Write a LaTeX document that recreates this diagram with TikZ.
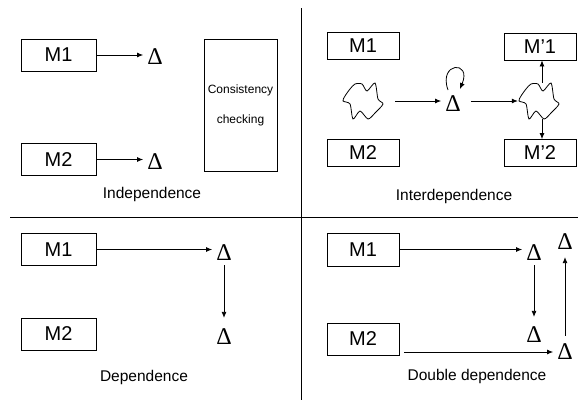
\documentclass[tikz,border=0pt]{standalone}
\usepackage{fontspec}
\setmainfont{Liberation Sans}
\newfontfamily\grk{Liberation Serif}
\usetikzlibrary{arrows.meta}
\tikzset{
  model/.style={draw, line width=0.8pt, minimum width=75pt, minimum height=32pt, font=\fontsize{20}{24}\selectfont},
  smallmodel/.style={model, minimum width=72pt, minimum height=27pt},
  delta/.style={font=\grk\fontsize{24}{28}\selectfont, inner sep=4pt},
  caption/.style={font=\fontsize{15.5}{18}\selectfont},
  arr/.style={-{Latex[length=6pt,width=5pt]}, line width=0.8pt},
  blobarea/.style={minimum width=40pt, minimum height=36pt, inner sep=0pt},
  blob/.pic={\draw[line width=0.8pt] plot [smooth cycle, tension=.45] coordinates {(-17,-5) (-12,-12) (-7,-17) (0,-17) (5,-10) (13,-18) (16,-2) (21,3) (13,12) (6,18) (-2,10) (-9,18) (-12,3) (-19,0)};}
}
\begin{document}
\begin{tikzpicture}[x=1pt, y=-1pt]
    \useasboundingbox (0,0) rectangle (578,400);
    \draw[line width=0.8pt] (301,8) -- (301,400);
    \draw[line width=0.8pt] (10,217) -- (578,217);
    % Independence
    \node[model] (m1A) at (58.5,55) {M1};
    \node[model] (m2A) at (58.5,159.5) {M2};
    \node[delta] (dA1) at (155,57) {Δ};
    \node[delta] (dA2) at (155,162) {Δ};
    \node[draw, line width=0.8pt, minimum width=73pt, minimum height=132pt, align=center, font=\fontsize{12}{30}\selectfont] (check) at (240.5,105) {Consistency\\checking};
    \draw[arr] (m1A.east) -- (m1A.east -| dA1.west);
    \draw[arr] (m2A.east) -- (m2A.east -| dA2.west);
    \node[caption] (capA) at (152,194) {Independence};
    % Interdependence
    \node[smallmodel] (m1B) at (363,46) {M1};
    \node[smallmodel] (m2B) at (363,152.5) {M2};
    \node[smallmodel] (m1pB) at (540,46.5) {M’1};
    \node[smallmodel] (m2pB) at (540,153) {M’2};
    \node[blobarea] (cl1) at (362,101) {};
    \node[blobarea] (cl2) at (538,101) {};
    \pic at (cl1) {blob};
    \pic at (cl2) {blob};
    \node[delta] (dB) at (453,104) {Δ};
    \coordinate (loopS) at (448,90);
    \coordinate (loopE) at (460,89);
    \draw[arr, shorten <=13pt] (cl1.east) -- (cl1.east -| dB.west);
    \draw[arr, shorten <=6pt] (dB.east |- cl2.west) -- (cl2.west);
    \draw[arr] (loopS) .. controls (438,62) and (472,60) .. (loopE);
    \draw[arr] ([xshift=4pt]cl2.north) -- ([xshift=4pt]cl2.north |- m1pB.south);
    \draw[arr] ([xshift=4pt]cl2.south) -- ([xshift=4pt]cl2.south |- m2pB.north);
    \node[caption] (capB) at (454,196) {Interdependence};
    % Dependence
    \node[model] (m1C) at (58.5,249.5) {M1};
    \node[model] (m2C) at (58.5,334) {M2};
    \node[delta] (dC1) at (224,253) {Δ};
    \node[delta] (dC2) at (224,337) {Δ};
    \draw[arr] (m1C.east) -- (m1C.east -| dC1.west);
    \draw[arr, shorten >=7pt] (dC1.south) -- (dC2.north);
    \node[caption] (capC) at (144,377) {Dependence};
    % Double dependence
    \node[smallmodel, minimum height=33pt] (m1D) at (363,249.5) {M1};
    \node[smallmodel, minimum height=32pt] (m2D) at (363,339) {M2};
    \node[delta] (dD1) at (534,253) {Δ};
    \node[delta] (dD2) at (534,335) {Δ};
    \node[delta] (dD3) at (565,352) {Δ};
    \node[delta] (dD4) at (565,242) {Δ};
    \draw[arr] (m1D.east) -- (m1D.east -| dD1.west);
    \draw[arr, shorten >=6pt] (dD1.south) -- (dD2.north);
    \draw[arr] ([xshift=5pt]m2D.east |- dD3.west) -- (dD3.west);
    \draw[arr, shorten <=4pt, shorten >=3pt] (dD3.north) -- (dD4.south);
    \node[caption] (capD) at (477,376) {Double dependence};
\end{tikzpicture}
\end{document}
